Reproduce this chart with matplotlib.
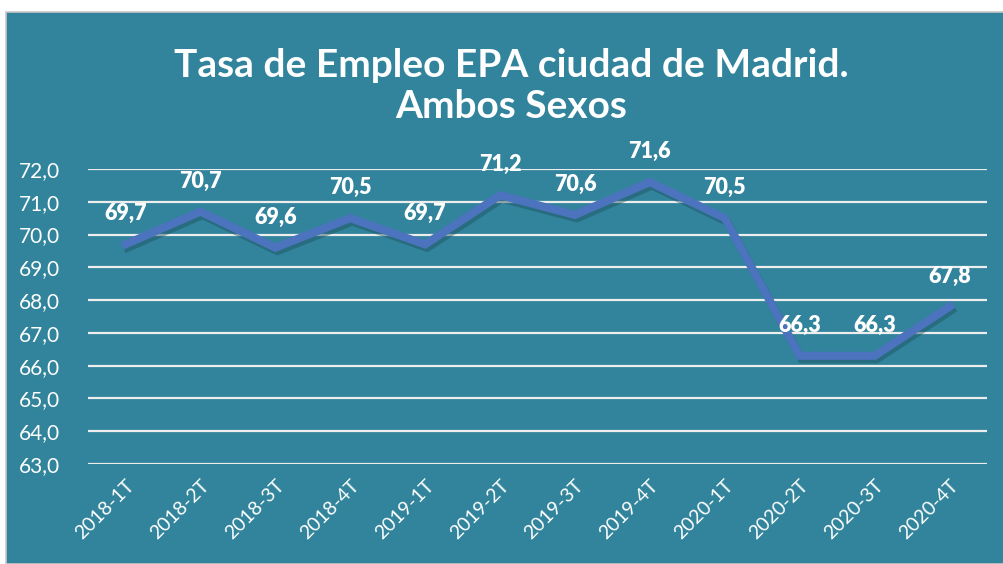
import matplotlib.pyplot as plt
import matplotlib.patheffects as pe
from matplotlib.patches import Rectangle

# ---------- Data ----------
trimestres = ["2018-1T", "2018-2T", "2018-3T", "2018-4T", "2019-1T", "2019-2T",
              "2019-3T", "2019-4T", "2020-1T", "2020-2T", "2020-3T", "2020-4T"]
tasa = [69.7, 70.7, 69.6, 70.5, 69.7, 71.2, 70.6, 71.6, 70.5, 66.3, 66.3, 67.8]
y_ticks = [63, 64, 65, 66, 67, 68, 69, 70, 71, 72]

bg = "#31849B"
line_col = "#4C74BE"
font = "Lato"

fig = plt.figure(figsize=(10.04, 5.64), dpi=100)
fig.patch.set_facecolor("white")
fig.patches.append(Rectangle((6 / 1004, 0), 1 - 6 / 1004, 1 - 12 / 564,
                             transform=fig.transFigure, facecolor=bg,
                             edgecolor="#C8C8C8", linewidth=1.2, zorder=-5))

ax = fig.add_axes([88 / 1004, 1 - 464 / 564, (987 - 88) / 1004, (464 - 169) / 564])
ax.set_facecolor("none")

x = list(range(len(trimestres)))
ax.plot(x, tasa, color=line_col, linewidth=5.8, solid_joinstyle="miter", zorder=3,
        path_effects=[pe.SimpleLineShadow(offset=(1.5, -2.5), shadow_color="#1E4F5E", alpha=0.45),
                      pe.Normal()])

for xi, v in zip(x, tasa):
    ax.annotate(f"{v:.1f}".replace(".", ","), (xi, v), xytext=(0, 22),
                textcoords="offset points", ha="center", va="center",
                color="white", fontsize=15.5, fontweight="heavy", family=font,
                annotation_clip=False, zorder=4)

ax.set_xlim(-0.5, len(trimestres) - 0.5)
ax.set_ylim(63, 72)
ax.set_yticks(y_ticks)
ax.set_yticklabels([f"{t:.1f}".replace(".", ",") for t in y_ticks],
                   color="white", fontsize=15, family=font)
ax.set_xticks(x)
ax.set_xticklabels(trimestres, rotation=45, ha="right", rotation_mode="anchor",
                   color="white", fontsize=14, family=font)
ax.tick_params(length=0, pad=9)
ax.tick_params(axis="y", pad=20)
ax.grid(axis="y", color="#EDEDED", linewidth=1.6)
ax.set_axisbelow(True)
for s in ax.spines.values():
    s.set_visible(False)

fig.text(0.509, 1 - 86 / 564, "Tasa de Empleo EPA ciudad de Madrid.\nAmbos Sexos",
         ha="center", va="center", color="white", fontsize=28, fontweight="bold",
         family=font, linespacing=1.2)

fig.savefig("out.png", dpi=100, facecolor=fig.get_facecolor())
